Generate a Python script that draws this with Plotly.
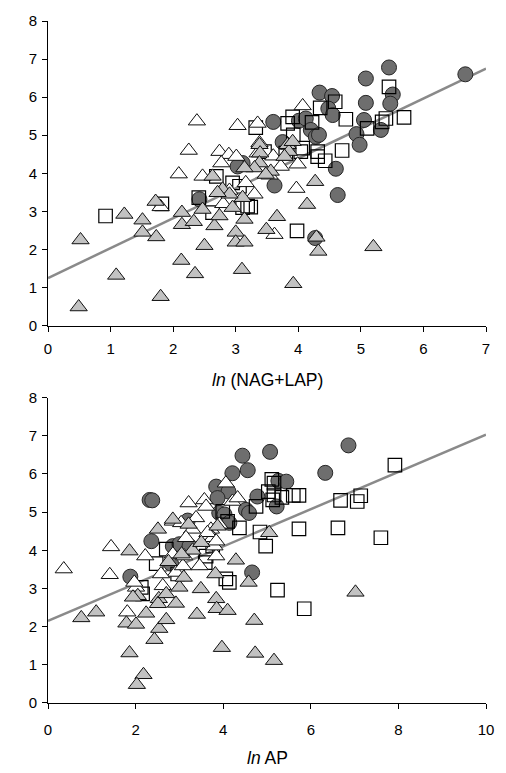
import plotly.graph_objects as go

# ---------------- Panel A: ln(NAG+LAP) ----------------
circ_a_x = [6.67, 5.45, 5.08, 5.51, 5.47, 5.08, 4.34, 4.54, 4.48, 4.55, 5.05, 5.32, 4.93, 4.98,
            3.60, 4.01, 4.12, 4.20, 4.28, 4.33, 3.75, 4.60, 3.11, 3.03, 3.62, 4.63, 4.27, 2.42]
circ_a_y = [6.60, 6.78, 6.49, 6.07, 5.83, 5.85, 6.12, 6.03, 5.70, 5.53, 5.40, 5.14, 5.03, 4.75,
            5.35, 5.38, 5.44, 5.14, 4.96, 5.01, 4.82, 4.12, 4.27, 4.18, 3.68, 3.43, 2.30, 3.32]

sq_a_x = [5.45, 5.69, 5.40, 5.34, 5.10, 4.76, 4.59, 4.35, 3.91, 3.83, 4.22, 3.32, 3.92, 4.04,
          4.70, 4.31, 4.31, 4.43, 3.46, 3.80, 4.07, 3.24, 3.98, 0.92, 1.82, 2.41, 2.69, 3.06,
          3.19, 2.63, 2.95, 3.11]
sq_a_y = [6.27, 5.47, 5.44, 5.35, 5.18, 5.42, 5.88, 5.72, 5.48, 5.31, 5.34, 5.20, 5.01, 4.57,
          4.60, 4.57, 4.44, 4.33, 4.57, 4.53, 4.66, 3.11, 2.49, 2.88, 3.20, 3.36, 3.92, 3.66,
          3.14, 2.97, 3.75, 3.10]

wtri_a_x = [2.38, 3.03, 3.35, 4.07, 2.25, 2.74, 2.89, 3.01, 3.38, 3.35, 2.09, 2.47, 2.77,
            3.99, 3.72, 3.54, 3.16, 3.97, 3.62, 1.80, 2.90, 3.30, 2.80, 3.60]
wtri_a_y = [5.37, 5.25, 5.31, 5.77, 4.60, 4.57, 4.49, 4.44, 4.80, 4.53, 3.98, 3.92, 4.27,
            4.24, 4.18, 3.95, 3.75, 3.60, 2.39, 3.12, 3.55, 3.45, 3.20, 4.45]

gtri_a_x = [0.52, 0.49, 1.09, 1.22, 1.51, 1.51, 1.73, 1.80, 1.72, 2.14, 2.14, 2.33, 2.50, 2.13,
            2.35, 2.66, 2.74, 2.47, 3.00, 3.00, 3.14, 3.14, 3.10, 3.11, 2.95, 2.79, 2.90, 5.20,
            4.32, 4.29, 3.92, 4.27, 4.14, 3.66, 3.49, 3.38, 3.39, 3.83, 3.85, 3.78, 3.38, 3.30,
            3.56, 3.14, 3.91, 2.63, 3.48, 2.71]
gtri_a_y = [2.25, 0.49, 1.32, 2.92, 2.77, 2.45, 2.33, 0.76, 3.26, 2.97, 2.65, 2.73, 2.10, 1.71,
            1.36, 2.62, 2.88, 3.05, 2.45, 2.19, 2.19, 2.79, 1.47, 3.36, 3.10, 3.58, 3.45, 2.07,
            1.95, 2.32, 1.10, 3.78, 3.18, 2.86, 2.52, 4.75, 4.53, 4.75, 4.57, 4.44, 4.27, 4.14,
            4.05, 4.14, 4.83, 3.92, 3.97, 3.49]

fit_a_intercept, fit_a_slope = 1.25, 0.786
range_a_x = [0, 7]

# ---------------- Panel B: ln AP ----------------
circ_b_x = [2.32, 2.38, 2.36, 4.44, 4.56, 4.21, 3.84, 4.12, 3.87, 3.91, 4.03, 3.19, 4.14, 4.52,
            4.59, 4.78, 2.85, 3.00, 6.86, 6.33, 5.07, 5.26, 5.44, 5.22, 1.88, 4.66, 3.23, 2.81]
circ_b_y = [5.32, 5.31, 4.24, 6.48, 6.10, 6.02, 5.67, 5.54, 5.37, 4.98, 4.94, 4.78, 4.72, 5.06,
            4.98, 5.41, 4.11, 4.16, 6.75, 6.03, 6.58, 5.82, 5.80, 5.15, 3.31, 3.42, 4.11, 3.65]

sq_b_x = [7.92, 7.14, 7.06, 6.68, 5.73, 6.62, 7.60, 4.84, 4.97, 5.11, 5.16, 5.16, 5.34, 5.60,
          5.73, 5.13, 5.03, 4.75, 4.37, 5.24, 5.85, 3.99, 4.10, 2.70, 2.47, 3.61, 3.59, 4.06,
          4.14, 2.16, 2.13, 2.96, 3.76]
sq_b_y = [6.23, 5.43, 5.28, 5.31, 4.56, 4.59, 4.33, 4.48, 4.11, 5.86, 5.76, 5.45, 5.39, 5.44,
          5.44, 5.32, 5.54, 5.15, 4.59, 2.96, 2.47, 5.02, 4.76, 4.03, 3.65, 3.85, 3.68, 3.25,
          3.16, 2.86, 3.03, 3.38, 4.11]

wtri_b_x = [0.36, 1.44, 1.41, 1.81, 2.01, 2.22, 2.62, 2.85, 2.92, 3.84, 3.80, 3.21, 3.57, 3.61,
            2.85, 3.04, 3.38, 3.72, 3.29, 3.91, 3.76, 4.21, 4.06, 4.33, 3.64, 3.84, 3.15, 1.97,
            3.08, 3.46, 2.58, 3.11]
wtri_b_y = [3.51, 4.09, 3.36, 2.38, 3.03, 3.85, 3.07, 3.90, 3.42, 3.85, 4.11, 5.24, 5.32, 5.15,
            4.76, 4.72, 4.85, 4.55, 4.55, 4.68, 4.33, 5.28, 5.76, 5.37, 4.46, 4.24, 4.33, 3.16,
            3.59, 3.59, 3.38, 3.85]

gtri_b_x = [0.76, 1.10, 1.86, 1.79, 2.01, 1.86, 2.18, 2.03, 2.43, 2.54, 2.70, 2.24, 2.53, 2.51,
            2.92, 3.00, 3.10, 3.49, 3.40, 3.84, 3.85, 4.10, 3.97, 3.82, 4.29, 4.58, 4.71, 4.73,
            5.16, 7.02, 5.05, 2.51, 3.21, 2.85, 3.87, 2.70, 2.05, 1.94, 3.30, 3.50, 3.05, 2.75]
gtri_b_y = [2.23, 2.38, 3.98, 2.09, 2.06, 1.31, 0.74, 0.48, 1.66, 1.95, 2.18, 2.35, 2.73, 2.60,
            2.61, 3.03, 3.29, 2.99, 2.32, 2.73, 2.47, 2.42, 1.45, 3.38, 3.74, 3.16, 2.16, 1.30,
            1.11, 2.90, 4.46, 4.55, 4.68, 4.81, 4.63, 2.86, 2.81, 2.77, 4.00, 4.20, 3.90, 3.70]

fit_b_intercept, fit_b_slope = 2.15, 0.488
range_b_x = [0, 10]

y_range = [0, 8]

# ---------------- styling ----------------
FONT = "Arial, Liberation Sans, sans-serif"
LINE_COLOR = "#8a8a8a"
DARK = "#6e6e6e"
LIGHT = "#c2c2c2"
EDGE = dict(color="#111111", width=1)

fig = go.Figure()


def add_panel(xa, ya, circ, sq, wtri, gtri, b0, b1, xr):
    # regression line across the full x range
    lx = [xr[0], xr[1]]
    ly = [b0 + b1 * v for v in lx]
    fig.add_trace(go.Scatter(x=lx, y=ly, mode="lines", xaxis=xa, yaxis=ya,
                             line=dict(color=LINE_COLOR, width=2.5), showlegend=False,
                             hoverinfo="skip"))
    fig.add_trace(go.Scatter(x=circ[0], y=circ[1], mode="markers", xaxis=xa, yaxis=ya,
                             marker=dict(symbol="circle", size=15, color=DARK,
                                         line=dict(color="#262626", width=1)),
                             showlegend=False))
    fig.add_trace(go.Scatter(x=sq[0], y=sq[1], mode="markers", xaxis=xa, yaxis=ya,
                             marker=dict(symbol="square-open", size=13.5,
                                         color="#000000", line=dict(width=1.2)),
                             showlegend=False))
    fig.add_trace(go.Scatter(x=wtri[0], y=wtri[1], mode="markers", xaxis=xa, yaxis=ya,
                             marker=dict(symbol="triangle-up", size=15, color="white",
                                         line=EDGE),
                             showlegend=False))
    fig.add_trace(go.Scatter(x=gtri[0], y=gtri[1], mode="markers", xaxis=xa, yaxis=ya,
                             marker=dict(symbol="triangle-up", size=15, color=LIGHT,
                                         line=EDGE),
                             showlegend=False))


add_panel("x", "y", (circ_a_x, circ_a_y), (sq_a_x, sq_a_y), (wtri_a_x, wtri_a_y),
          (gtri_a_x, gtri_a_y), fit_a_intercept, fit_a_slope, range_a_x)
add_panel("x2", "y2", (circ_b_x, circ_b_y), (sq_b_x, sq_b_y), (wtri_b_x, wtri_b_y),
          (gtri_b_x, gtri_b_y), fit_b_intercept, fit_b_slope, range_b_x)

axis_common = dict(showgrid=False, zeroline=False, showline=True, linecolor="#000000",
                   linewidth=1, ticks="outside", ticklen=5, tickcolor="#000000",
                   tickfont=dict(family=FONT, size=15, color="#000000"))

fig.update_layout(
    width=506, height=773,
    margin=dict(l=48, r=19, t=15, b=70),
    paper_bgcolor="white", plot_bgcolor="white",
    xaxis=dict(domain=[0, 1], range=range_a_x, dtick=1, anchor="y",
               ticklabelstandoff=4, **axis_common),
    yaxis=dict(domain=[0.5533, 1], range=y_range, dtick=1, anchor="x",
               ticklabelstandoff=2, **axis_common),
    xaxis2=dict(domain=[0, 1], range=range_b_x, dtick=2, anchor="y2",
                ticklabelstandoff=8, **axis_common),
    yaxis2=dict(domain=[0, 0.4477], range=y_range, dtick=1, anchor="x2",
                ticklabelstandoff=2, **axis_common),
    annotations=[
        dict(text="<i>ln</i> (NAG+LAP)", xref="paper", yref="paper", x=0.5, y=0.4738,
             xanchor="center", yanchor="middle", showarrow=False,
             font=dict(family=FONT, size=17.5, color="#000000")),
        dict(text="<i>ln</i> AP", xref="paper", yref="paper", x=0.5, y=-0.080,
             xanchor="center", yanchor="middle", showarrow=False,
             font=dict(family=FONT, size=17.5, color="#000000")),
    ],
)

fig.write_html("out.html")
